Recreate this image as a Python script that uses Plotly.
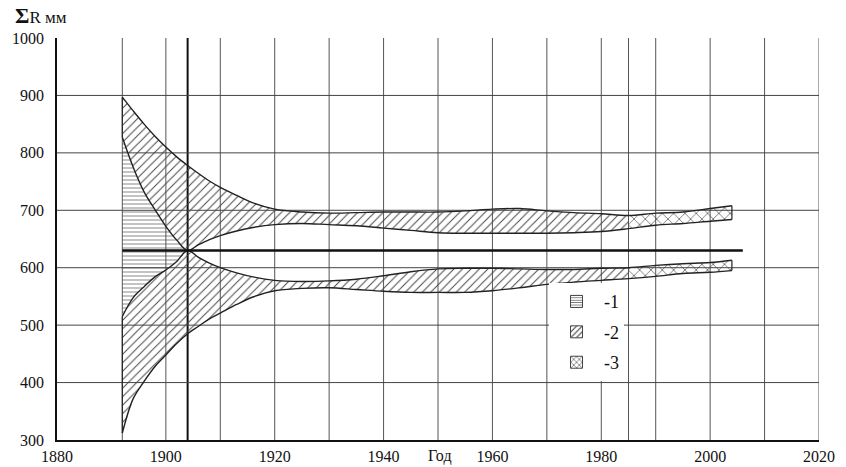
import plotly.graph_objects as go

# ---------------- data ----------------
years = [1892, 1894, 1896, 1898, 1900, 1902, 1904, 1906, 1908, 1910, 1913, 1916, 1920,
         1925, 1930, 1935, 1940, 1945, 1950, 1955, 1960, 1965, 1970, 1975, 1980, 1985,
         1990, 1995, 2000, 2004]
upper_outer = [897, 873, 850, 829, 810, 793, 778, 764, 751, 740, 726, 713, 702,
               697, 695, 696, 697, 697, 697, 699, 702, 703, 699, 696, 694, 691,
               695, 697, 703, 708]
upper_inner = [827, 775, 732, 701, 672, 648, 630, 640, 649, 656, 664, 670, 675,
               677, 675, 673, 669, 665, 661, 660, 660, 660, 660, 661, 663, 668,
               674, 677, 681, 684]
lower_inner = [515, 548, 567, 584, 596, 611, 630, 618, 608, 600, 591, 584, 578,
               576, 577, 580, 586, 593, 598, 599, 599, 598, 597, 597, 599, 600,
               604, 607, 609, 613]
lower_outer = [312, 372, 402, 428, 448, 468, 485, 498, 511, 521, 536, 549, 560,
               564, 565, 562, 559, 557, 557, 557, 560, 565, 571, 575, 578, 581,
               585, 590, 592, 595]

mean_years = [1892, 2006]
mean_value = [630, 630]

zone1_end = 1904
zone3_start = 1985

x_grid = [1892, 1900, 1910, 1920, 1930, 1940, 1950, 1960, 1970, 1980, 1985, 1990,
          2000, 2010, 2020]
x_grid_bold = [1904]
y_grid = [400, 500, 600, 700, 800, 900]
x_ticks = [1880, 1900, 1920, 1940, 1960, 1980, 2000, 2020]
y_ticks = [300, 400, 500, 600, 700, 800, 900, 1000]
legend_names = ["-1", "-2", "-3"]

# ---------------- figure ----------------
FONT = "Liberation Serif, Times New Roman, serif"
INK = "#222"
fig = go.Figure()

i1 = years.index(zone1_end)
i3 = years.index(zone3_start)


def poly(xs, top, bottom):
    return xs + xs[::-1], top + bottom[::-1]


def add_zone(xs, top, bottom, shape, size):
    px, py = poly(xs, top, bottom)
    fig.add_trace(go.Scatter(
        x=px, y=py, mode="lines", fill="toself", line=dict(width=0),
        fillcolor="rgba(0,0,0,0)",
        fillpattern=dict(shape=shape, fgcolor="#444", bgcolor="rgba(255,255,255,0)",
                         size=size, solidity=0.16, fillmode="replace"),
        hoverinfo="skip", showlegend=False))


# zone 1 (horizontal hatch)
add_zone(years[:i1 + 1], upper_inner[:i1 + 1], lower_inner[:i1 + 1], "-", 4)
# zone 2 (diagonal hatch)
add_zone(years[:i3 + 1], upper_outer[:i3 + 1], upper_inner[:i3 + 1], "/", 6)
add_zone(years[:i3 + 1], lower_inner[:i3 + 1], lower_outer[:i3 + 1], "/", 6)
# zone 3 (cross hatch)
add_zone(years[i3:], upper_outer[i3:], upper_inner[i3:], "x", 8)
add_zone(years[i3:], lower_inner[i3:], lower_outer[i3:], "x", 8)

# boundary curves
for curve in (upper_outer, upper_inner, lower_inner, lower_outer):
    fig.add_trace(go.Scatter(x=years, y=curve, mode="lines",
                             line=dict(color=INK, width=1.4, shape="spline", smoothing=1),
                             hoverinfo="skip", showlegend=False))

# edges of the bands at the start and end
for idx in (0, len(years) - 1):
    fig.add_trace(go.Scatter(x=[years[idx], years[idx]], y=[upper_outer[idx], upper_inner[idx]],
                             mode="lines", line=dict(color=INK, width=1.2),
                             hoverinfo="skip", showlegend=False))
    fig.add_trace(go.Scatter(x=[years[idx], years[idx]], y=[lower_inner[idx], lower_outer[idx]],
                             mode="lines", line=dict(color=INK, width=1.2),
                             hoverinfo="skip", showlegend=False))

# mean line
fig.add_trace(go.Scatter(x=mean_years, y=mean_value, mode="lines",
                         line=dict(color="#111", width=2.6), hoverinfo="skip",
                         showlegend=False))

# legend entries
legend_patterns = [dict(shape="-", size=3), dict(shape="/", size=5), dict(shape="x", size=5)]
for k, (nm, pat) in enumerate(zip(legend_names, legend_patterns)):
    fig.add_trace(go.Bar(
        x=[None], y=[None], name=nm, legendgroup=f"g{k}",
        marker=dict(color="white", line=dict(color="#444", width=1),
                    pattern=dict(shape=pat["shape"], size=pat["size"], solidity=0.25,
                                 fgcolor="#333", bgcolor="white", fillmode="replace")),
        showlegend=True))

# grid shapes
shapes = []
for xg in x_grid:
    shapes.append(dict(type="line", xref="x", yref="y", x0=xg, x1=xg, y0=300, y1=1000,
                       line=dict(color="#555", width=1), layer="below"))
for xg in x_grid_bold:
    shapes.append(dict(type="line", xref="x", yref="y", x0=xg, x1=xg, y0=300, y1=1000,
                       line=dict(color="#111", width=2), layer="below"))
for yg in y_grid:
    shapes.append(dict(type="line", xref="x", yref="y", x0=1880, x1=2020, y0=yg, y1=yg,
                       line=dict(color="#444", width=1), layer="below"))

fig.update_layout(
    width=846, height=467,
    margin=dict(l=57, r=27, t=38, b=27, autoexpand=False),
    paper_bgcolor="white", plot_bgcolor="white",
    font=dict(family=FONT, size=16, color="#111"),
    shapes=shapes,
    showlegend=True,
    legend=dict(x=0.6457, y=0.39, xanchor="left", yanchor="top",
                bgcolor="white", borderwidth=0, tracegroupgap=4,
                font=dict(family=FONT, size=18, color="#111"),
                itemwidth=45),
    xaxis=dict(range=[1880, 2020], showgrid=False, zeroline=False, showline=True,
               linecolor="#111", linewidth=1.5, tickvals=x_ticks, ticks="",
               automargin=False,
               ticklabelstandoff=1, tickfont=dict(family=FONT, size=16)),
    yaxis=dict(range=[300, 1000], showgrid=False, zeroline=False, showline=True,
               linecolor="#111", linewidth=1.5, tickvals=y_ticks, ticks="",
               automargin=False,
               ticklabelstandoff=8, tickfont=dict(family=FONT, size=16)),
    annotations=[
        dict(text="<span style='font-size:22px'><b>Σ</b></span>R мм", xref="paper",
             yref="paper", x=-0.058, y=1.057,
             xanchor="left", yanchor="middle", showarrow=False,
             font=dict(family=FONT, size=17, color="#111")),
        dict(text="Год", xref="paper", yref="paper", x=0.5026, y=-0.04,
             xanchor="center", yanchor="middle", showarrow=False,
             font=dict(family=FONT, size=16, color="#111")),
    ],
)

fig.write_html(
    "out.html",
    config={"displayModeBar": False},
    post_script="document.body.style.margin='0';document.body.style.overflow='hidden';",
)
